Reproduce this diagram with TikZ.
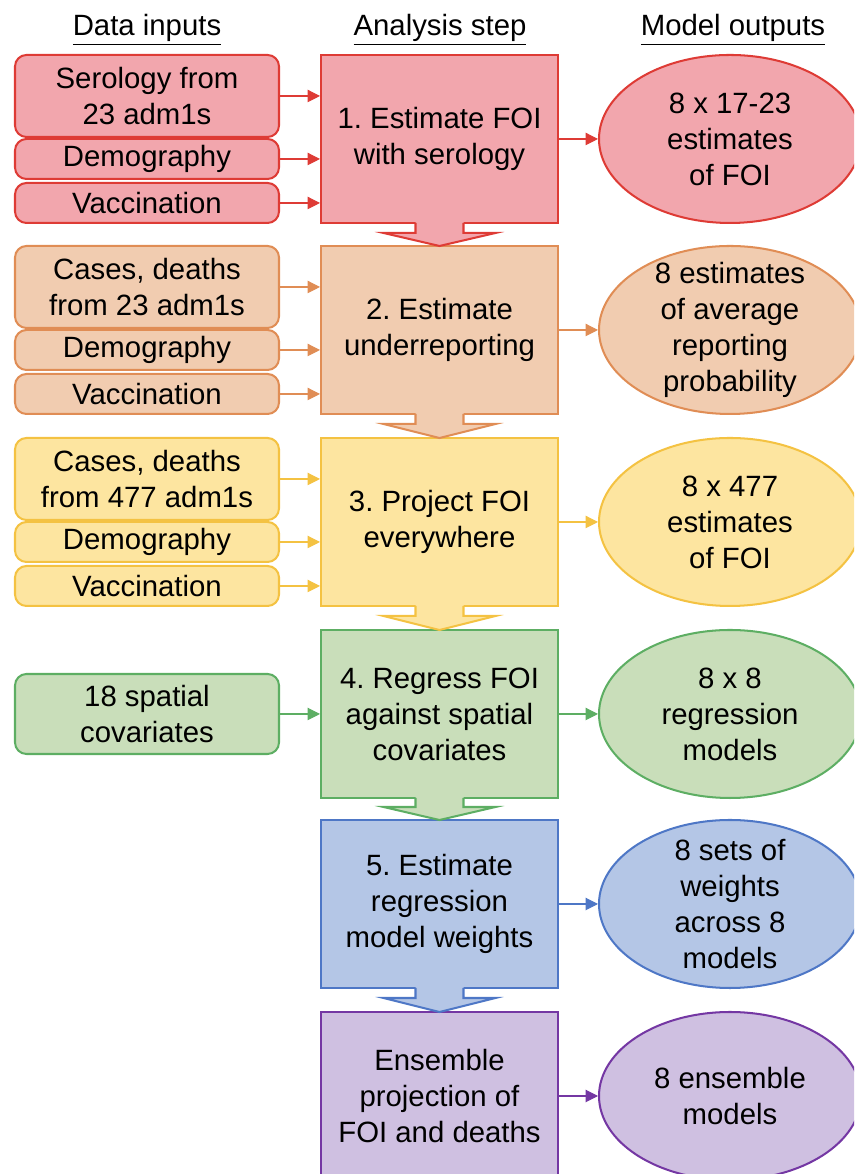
\documentclass[tikz,border=0pt]{standalone}
\usepackage{fontspec}
\setmainfont{Liberation Sans}
\usepackage{tikz}
\usetikzlibrary{arrows.meta, shapes.geometric, positioning}
\frenchspacing

\definecolor{redfill}{HTML}{F2A6AD}
\definecolor{redline}{HTML}{DE3B35}
\definecolor{orangefill}{HTML}{F1CCB0}
\definecolor{orangeline}{HTML}{E08D55}
\definecolor{yellowfill}{HTML}{FDE5A0}
\definecolor{yellowline}{HTML}{F4C242}
\definecolor{greenfill}{HTML}{C9DEBA}
\definecolor{greenline}{HTML}{5DAE63}
\definecolor{bluefill}{HTML}{B4C6E6}
\definecolor{blueline}{HTML}{4E77C6}
\definecolor{purplefill}{HTML}{CFC0E1}
\definecolor{purpleline}{HTML}{7437A3}

\tikzset{
  txt/.style={font=\fontsize{16.7}{20.5}\selectfont},
  head/.style={txt, anchor=base},
  stepbox/.style={txt, rectangle, draw, line width=1.15pt, minimum width=4.74cm, minimum height=3.36cm, align=center},
  inbox/.style={txt, rectangle, rounded corners=6.5pt, draw, line width=1.15pt, minimum width=5.28cm, inner sep=0pt, align=center},
  outell/.style={txt, ellipse, draw, line width=1.15pt, minimum width=5.24cm, minimum height=3.36cm, inner sep=-5pt, align=center},
  conn/.style={-{Triangle[length=7pt,width=7pt]}, line width=0.6pt},
  blk/.style={line width=1.15pt, line join=miter}
}

\begin{document}
\begin{tikzpicture}
\useasboundingbox (0,0) rectangle (17.08,23.48);
\clip (0,0) rectangle (17.08,23.48);

% headers
\node[head] (hin) at (2.94,22.76) {\underline{Data inputs}};
\node[head] (hstep) at (8.8,22.76) {\underline{Analysis step}};
\node[head] (hout) at (14.66,22.76) {\underline{Model outputs}};

% analysis steps
\node[stepbox, fill=redfill, draw=redline] (s1) at (8.79,20.70) {1. Estimate FOI\\with serology};
\node[stepbox, fill=orangefill, draw=orangeline] (s2) at (8.79,16.88) {2. Estimate\\underreporting};
\node[stepbox, fill=yellowfill, draw=yellowline] (s3) at (8.79,13.04) {3. Project FOI\\everywhere};
\node[stepbox, fill=greenfill, draw=greenline] (s4) at (8.79,9.20) {4. Regress FOI\\against spatial\\covariates};
\node[stepbox, fill=bluefill, draw=blueline] (s5) at (8.79,5.40) {5. Estimate\\regression\\model weights};
\node[stepbox, fill=purplefill, draw=purpleline] (s6) at (8.79,1.56) {Ensemble\\projection of\\FOI and deaths};

% data inputs
\node[inbox, fill=redfill, draw=redline, minimum height=1.64cm] (in1a) at (2.94,21.56) {Serology from\\23 adm1s};
\node[inbox, fill=redfill, draw=redline, minimum height=0.8cm] (in1b) at (2.94,20.30) {Demography};
\node[inbox, fill=redfill, draw=redline, minimum height=0.8cm] (in1c) at (2.94,19.42) {Vaccination};

\node[inbox, fill=orangefill, draw=orangeline, minimum height=1.64cm] (in2a) at (2.94,17.74) {Cases, deaths\\from 23 adm1s};
\node[inbox, fill=orangefill, draw=orangeline, minimum height=0.8cm] (in2b) at (2.94,16.48) {Demography};
\node[inbox, fill=orangefill, draw=orangeline, minimum height=0.8cm] (in2c) at (2.94,15.60) {Vaccination};

\node[inbox, fill=yellowfill, draw=yellowline, minimum height=1.64cm] (in3a) at (2.94,13.90) {Cases, deaths\\from 477 adm1s};
\node[inbox, fill=yellowfill, draw=yellowline, minimum height=0.8cm] (in3b) at (2.94,12.64) {Demography};
\node[inbox, fill=yellowfill, draw=yellowline, minimum height=0.8cm] (in3c) at (2.94,11.76) {Vaccination};

\node[inbox, fill=greenfill, draw=greenline, minimum height=1.6cm] (in4) at (2.94,9.20) {18 spatial\\covariates};

% model outputs
\node[outell, fill=redfill, draw=redline] (e1) at (14.6,20.70) {8 x 17-23\\estimates\\of FOI};
\node[outell, fill=orangefill, draw=orangeline] (e2) at (14.6,16.88) {8 estimates\\of average\\reporting\\probability};
\node[outell, fill=yellowfill, draw=yellowline] (e3) at (14.6,13.04) {8 x 477\\estimates\\of FOI};
\node[outell, fill=greenfill, draw=greenline] (e4) at (14.6,9.20) {8 x 8\\regression\\models};
\node[outell, fill=bluefill, draw=blueline] (e5) at (14.6,5.40) {8 sets of\\weights\\across 8\\models};
\node[outell, fill=purplefill, draw=purpleline] (e6) at (14.6,1.56) {8 ensemble\\models};

% block arrows between steps
\fill[redfill] (8.31,19.05) -- (8.31,18.82) -- (7.67,18.82) -- (8.79,18.56) -- (9.91,18.82) -- (9.27,18.82) -- (9.27,19.05) -- cycle;
\draw[blk, redline] (8.31,19.02) -- (8.31,18.82) -- (7.67,18.82) -- (8.79,18.56) -- (9.91,18.82) -- (9.27,18.82) -- (9.27,19.02);

\fill[orangefill] (8.31,15.23) -- (8.31,15.00) -- (7.67,15.00) -- (8.79,14.72) -- (9.91,15.00) -- (9.27,15.00) -- (9.27,15.23) -- cycle;
\draw[blk, orangeline] (8.31,15.20) -- (8.31,15.00) -- (7.67,15.00) -- (8.79,14.72) -- (9.91,15.00) -- (9.27,15.00) -- (9.27,15.20);

\fill[yellowfill] (8.31,11.39) -- (8.31,11.16) -- (7.67,11.16) -- (8.79,10.88) -- (9.91,11.16) -- (9.27,11.16) -- (9.27,11.39) -- cycle;
\draw[blk, yellowline] (8.31,11.36) -- (8.31,11.16) -- (7.67,11.16) -- (8.79,10.88) -- (9.91,11.16) -- (9.27,11.16) -- (9.27,11.36);

\fill[greenfill] (8.31,7.55) -- (8.31,7.34) -- (7.67,7.34) -- (8.79,7.08) -- (9.91,7.34) -- (9.27,7.34) -- (9.27,7.55) -- cycle;
\draw[blk, greenline] (8.31,7.52) -- (8.31,7.34) -- (7.67,7.34) -- (8.79,7.08) -- (9.91,7.34) -- (9.27,7.34) -- (9.27,7.52);

\fill[bluefill] (8.31,3.75) -- (8.31,3.52) -- (7.67,3.52) -- (8.79,3.24) -- (9.91,3.52) -- (9.27,3.52) -- (9.27,3.75) -- cycle;
\draw[blk, blueline] (8.31,3.72) -- (8.31,3.52) -- (7.67,3.52) -- (8.79,3.24) -- (9.91,3.52) -- (9.27,3.52) -- (9.27,3.72);

% inputs to steps
\draw[conn, redline] (in1a.east) -- (in1a.east -| s1.west);
\draw[conn, redline] (in1b.east) -- (in1b.east -| s1.west);
\draw[conn, redline] (in1c.east) -- (in1c.east -| s1.west);
\draw[conn, orangeline] (in2a.east) -- (in2a.east -| s2.west);
\draw[conn, orangeline] (in2b.east) -- (in2b.east -| s2.west);
\draw[conn, orangeline] (in2c.east) -- (in2c.east -| s2.west);
\draw[conn, yellowline] (in3a.east) -- (in3a.east -| s3.west);
\draw[conn, yellowline] (in3b.east) -- (in3b.east -| s3.west);
\draw[conn, yellowline] (in3c.east) -- (in3c.east -| s3.west);
\draw[conn, greenline] (in4.east) -- (in4.east -| s4.west);

% steps to outputs
\draw[conn, redline] (s1) -- (e1);
\draw[conn, orangeline] (s2) -- (e2);
\draw[conn, yellowline] (s3) -- (e3);
\draw[conn, greenline] (s4) -- (e4);
\draw[conn, blueline] (s5) -- (e5);
\draw[conn, purpleline] (s6) -- (e6);

\end{tikzpicture}
\end{document}
